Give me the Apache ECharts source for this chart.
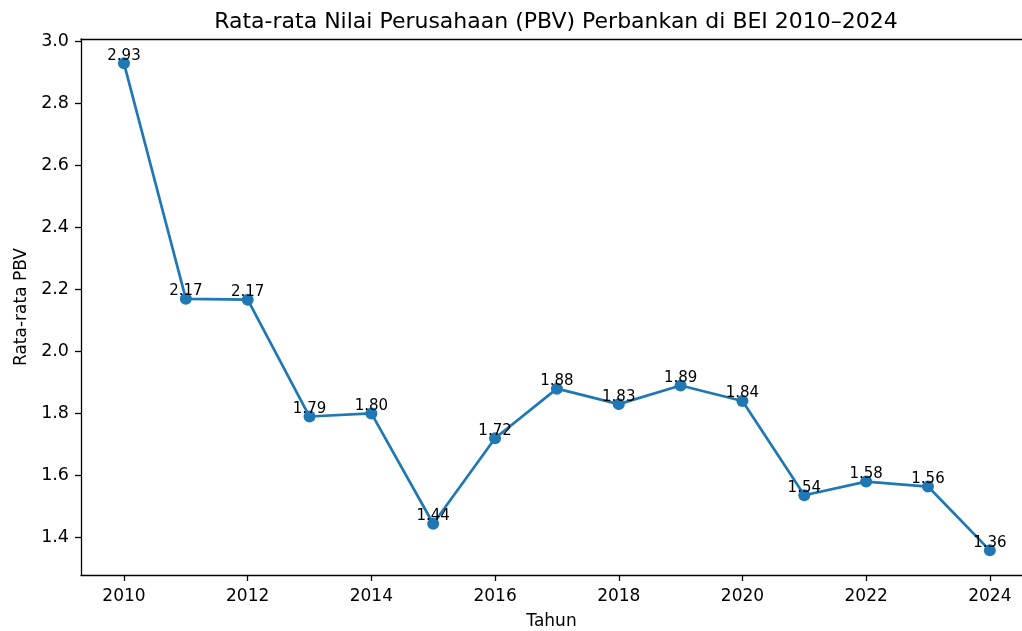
<!DOCTYPE html>
<html>
<head>
<meta charset="utf-8">
<script src="https://cdn.jsdelivr.net/npm/echarts@6/dist/echarts.min.js"></script>
<style>
  html, body { margin: 0; padding: 0; background: #fff; }
  #main { width: 1022px; height: 631px; }
</style>
</head>
<body>
<div id="main"></div>
<script>
let myChart = echarts.init(document.getElementById('main'));

// data
let years = [2010, 2011, 2012, 2013, 2014, 2015, 2016, 2017, 2018, 2019, 2020, 2021, 2022, 2023, 2024];
let pbv = [2.93, 2.17, 2.167, 1.79, 1.80, 1.444, 1.72, 1.88, 1.83, 1.89, 1.84, 1.536, 1.58, 1.564, 1.358];
let xTicks = [2010, 2012, 2014, 2016, 2018, 2020, 2022, 2024];
let yTicks = [1.4, 1.6, 1.8, 2.0, 2.2, 2.4, 2.6, 2.8, 3.0];

let font = 'DejaVu Sans';
// the right spine is cut off by the picture edge
let xMin = 2009.305, xMax = 2024.52;

let option = {
    animation: false,
    title: {
        text: 'Rata-rata Nilai Perusahaan (PBV) Perbankan di BEI 2010–2024',
        left: 551,
        top: 6,
        textAlign: 'center',
        textStyle: { fontFamily: font, fontSize: 22, fontWeight: 'normal', color: '#000' }
    },
    grid: { left: 81, top: 39, right: 0, height: 536, outerBoundsMode: 'none' },
    xAxis: [{
        type: 'value',
        min: xMin,
        max: xMax,
        name: 'Tahun',
        nameLocation: 'middle',
        nameGap: 38,
        nameTextStyle: { fontFamily: font, fontSize: 17, color: '#000' },
        axisLine: { show: true, onZero: false, lineStyle: { color: '#000', width: 1.3 } },
        axisTick: { show: true, length: 6, customValues: xTicks, lineStyle: { color: '#000', width: 1.3 } },
        axisLabel: { customValues: xTicks, margin: 13, fontFamily: font, fontSize: 17, color: '#000',
            formatter: v => String(v) },
        splitLine: { show: false }
    }, {
        type: 'value',
        position: 'top',
        min: xMin,
        max: xMax,
        axisLine: { show: true, onZero: false, lineStyle: { color: '#000', width: 1.3 } },
        axisTick: { show: false },
        axisLabel: { show: false },
        splitLine: { show: false }
    }],
    yAxis: {
        type: 'value',
        min: 1.2785,
        max: 3.0085,
        name: 'Rata-rata PBV',
        nameLocation: 'middle',
        nameGap: 50,
        nameTextStyle: { fontFamily: font, fontSize: 17, color: '#000' },
        axisLine: { show: true, lineStyle: { color: '#000', width: 1.3 } },
        axisTick: { show: true, length: 6, customValues: yTicks, lineStyle: { color: '#000', width: 1.3 } },
        axisLabel: {
            customValues: yTicks, margin: 12, fontFamily: font, fontSize: 17.5, color: '#000',
            formatter: v => v.toFixed(1)
        },
        splitLine: { show: false }
    },
    series: [{
        type: 'line',
        data: years.map((y, i) => [y, pbv[i]]),
        symbol: 'circle',
        symbolSize: 12,
        itemStyle: { color: '#1f77b4' },
        lineStyle: { color: '#1f77b4', width: 2.7 },
        label: {
            show: true,
            position: 'top',
            distance: -6,
            fontFamily: font,
            fontSize: 15,
            color: '#000',
            formatter: p => p.value[1].toFixed(2)
        }
    }]
};

myChart.setOption(option);
</script>
</body>
</html>
